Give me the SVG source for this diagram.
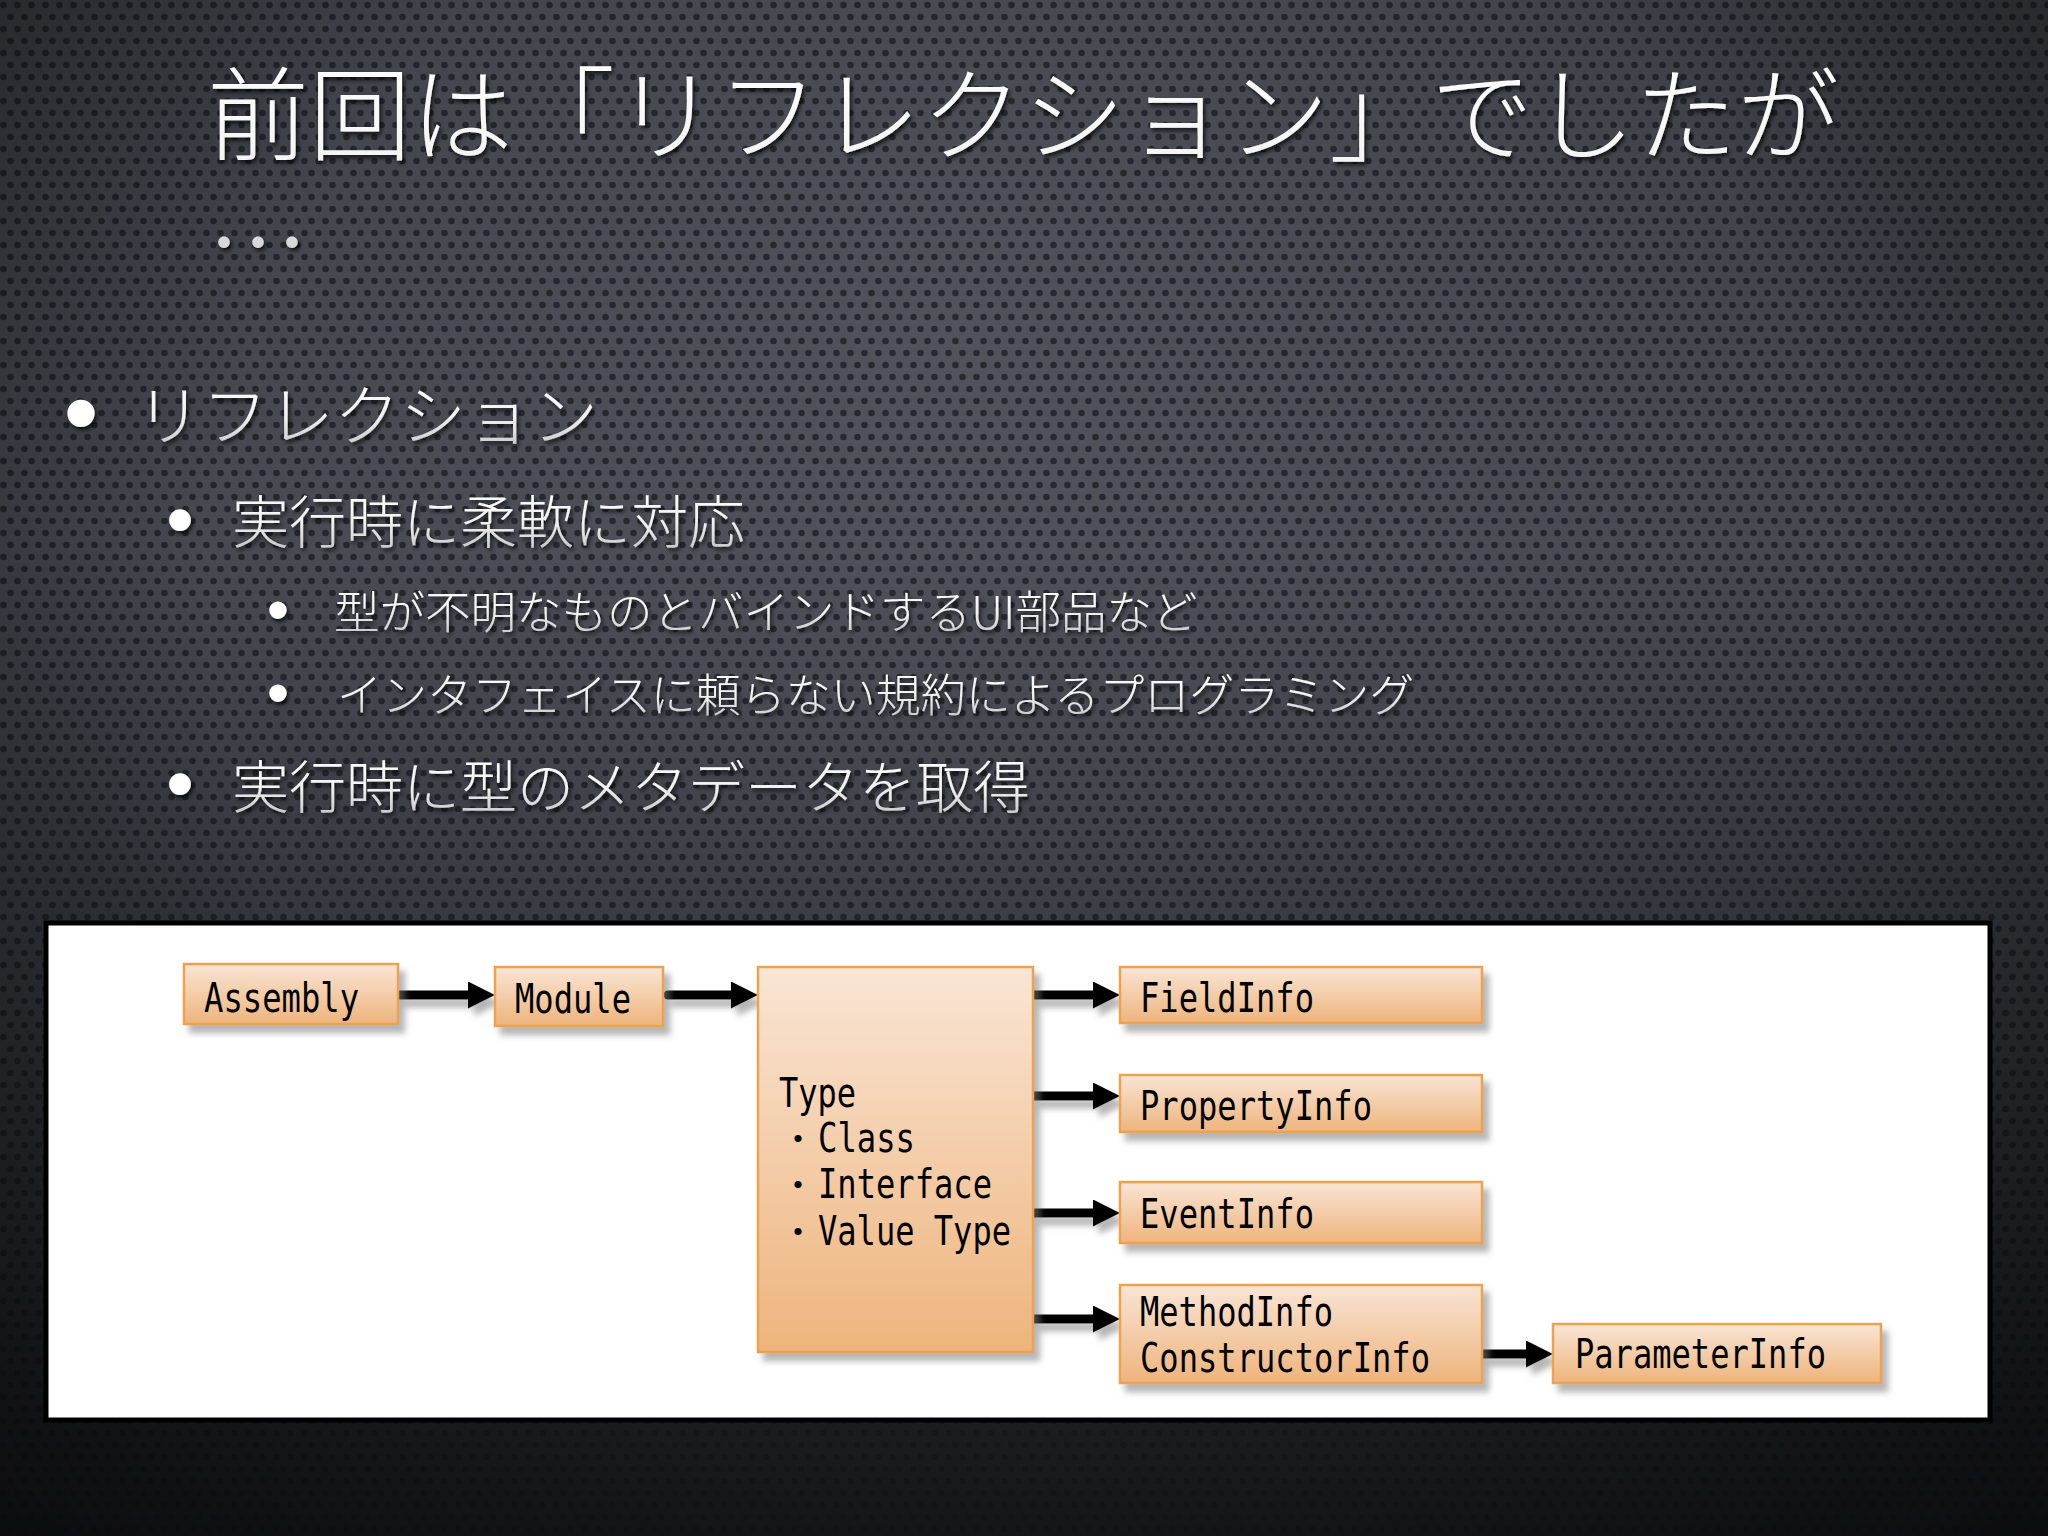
<svg xmlns="http://www.w3.org/2000/svg" width="2048" height="1536" viewBox="0 0 2048 1536">
<defs>
<style>
.jp{font-family:"Noto Sans CJK JP","Noto Sans",sans-serif;font-weight:300;fill:url(#txtg);filter:url(#tsh)}
.bul{font-family:"Liberation Sans",sans-serif;fill:#ffffff;text-anchor:middle;dominant-baseline:central;filter:url(#tsh)}
.box{fill:url(#boxg);stroke:#eda24f;stroke-width:2.5}
.lbl{font-family:"DejaVu Sans Mono","Liberation Mono",monospace;font-size:40px;fill:#000}
.dot{font-family:"Noto Sans CJK JP",sans-serif;font-size:34px;fill:#000}
.arr{stroke:#000;stroke-width:9;fill:none;marker-end:url(#ah)}
</style>
<linearGradient id="bgv" x1="0" y1="0" x2="0" y2="1">
<stop offset="0" stop-color="#3b3c43"/>
<stop offset="0.35" stop-color="#45464e"/>
<stop offset="0.7" stop-color="#2c2d33"/>
<stop offset="1" stop-color="#17181c"/>
</linearGradient>
<radialGradient id="bgr" cx="950" cy="330" r="1000" gradientUnits="userSpaceOnUse">
<stop offset="0" stop-color="#5e606a" stop-opacity="0.55"/>
<stop offset="1" stop-color="#5e606a" stop-opacity="0"/>
</radialGradient>
<radialGradient id="vig" cx="1024" cy="600" r="1350" gradientUnits="userSpaceOnUse">
<stop offset="0.6" stop-color="#000" stop-opacity="0"/>
<stop offset="1" stop-color="#000" stop-opacity="0.45"/>
</radialGradient>
<pattern id="holes" width="14" height="24" patternUnits="userSpaceOnUse">
<circle cx="3.5" cy="5" r="3.3" fill="#131418" fill-opacity="0.65"/>
<circle cx="10.5" cy="17" r="3.3" fill="#131418" fill-opacity="0.65"/>
</pattern>
<linearGradient id="txtg" x1="0" y1="0" x2="0" y2="1">
<stop offset="0" stop-color="#ffffff"/>
<stop offset="0.55" stop-color="#f2f2f2"/>
<stop offset="1" stop-color="#b9b9bd"/>
</linearGradient>
<linearGradient id="boxg" x1="0" y1="0" x2="0" y2="1">
<stop offset="0" stop-color="#f9e5d5"/>
<stop offset="1" stop-color="#eeb47c"/>
</linearGradient>
<filter id="tsh" x="-5%" y="-20%" width="110%" height="150%">
<feDropShadow dx="2" dy="3" stdDeviation="2" flood-color="#000" flood-opacity="0.75"/>
</filter>
<filter id="bsh" x="-10%" y="-20%" width="130%" height="150%">
<feDropShadow dx="6" dy="8" stdDeviation="3" flood-color="#7a7a7a" flood-opacity="0.55"/>
</filter>
<marker id="ah" markerUnits="userSpaceOnUse" markerWidth="27" markerHeight="27" viewBox="0 0 27 27" refX="0" refY="13.5" orient="auto">
<path d="M0,0 L27,13.5 L0,27 Z" fill="#000"/>
</marker>
</defs>

<g id="background">
<rect width="2048" height="1536" fill="url(#bgv)"/>
<rect width="2048" height="1536" fill="url(#bgr)"/>
<rect width="2048" height="1536" fill="url(#holes)"/>
<rect width="2048" height="1536" fill="url(#vig)"/>
</g>

<g id="title">
<text class="jp" x="207" y="153" font-size="102">前回は「リフレクション」でしたが<tspan x="207" dy="128">…</tspan></text>
</g>

<g id="bullets">
<text class="bul" x="81" y="412" font-size="100">•</text>
<text class="jp" x="136" y="440" font-size="66">リフレクション</text>
<text class="bul" x="180" y="519" font-size="80">•</text>
<text class="jp" x="232" y="543" font-size="57">実行時に柔軟に対応</text>
<text class="bul" x="278" y="610" font-size="64">•</text>
<text class="jp" x="334" y="629" font-size="45.5">型が不明なものとバインドするUI部品など</text>
<text class="bul" x="278" y="693" font-size="64">•</text>
<text class="jp" x="337" y="712" font-size="45">インタフェイスに頼らない規約によるプログラミング</text>
<text class="bul" x="180" y="783" font-size="80">•</text>
<text class="jp" x="232" y="808" font-size="57">実行時に型のメタデータを取得</text>
</g>

<g id="panel">
<rect x="46" y="923" width="1944" height="497" fill="#ffffff" stroke="#000" stroke-width="5"/>
</g>

<g id="connectors" filter="url(#bsh)">
<path class="arr" d="M398,995 H468"/>
<path class="arr" d="M668,995 H731" stroke-linecap="round"/>
<path class="arr" d="M1033,995 H1093"/>
<path class="arr" d="M1033,1096 H1093"/>
<path class="arr" d="M1033,1213 H1093"/>
<path class="arr" d="M1033,1319 H1093"/>
<path class="arr" d="M1482,1354 H1526"/>
</g>

<g id="node-assembly">
<rect class="box" x="184" y="964" width="214" height="60" filter="url(#bsh)"/>
<text class="lbl" x="204" y="1012" textLength="155" lengthAdjust="spacingAndGlyphs">Assembly</text>
</g>
<g id="node-module">
<rect class="box" x="495" y="967" width="168" height="59" filter="url(#bsh)"/>
<text class="lbl" x="515" y="1013" textLength="116" lengthAdjust="spacingAndGlyphs">Module</text>
</g>
<g id="node-type">
<rect class="box" x="758" y="967" width="275" height="385" filter="url(#bsh)"/>
<text class="lbl" x="779" y="1107" textLength="77" lengthAdjust="spacingAndGlyphs">Type</text>
<text class="dot" x="781" y="1152">・</text>
<text class="lbl" x="818" y="1152" textLength="97" lengthAdjust="spacingAndGlyphs">Class</text>
<text class="dot" x="781" y="1198">・</text>
<text class="lbl" x="818" y="1198" textLength="174" lengthAdjust="spacingAndGlyphs">Interface</text>
<text class="dot" x="781" y="1245">・</text>
<text class="lbl" x="818" y="1245" textLength="193" lengthAdjust="spacingAndGlyphs">Value Type</text>
</g>
<g id="node-fieldinfo">
<rect class="box" x="1120" y="967" width="362" height="56" filter="url(#bsh)"/>
<text class="lbl" x="1140" y="1012" textLength="174" lengthAdjust="spacingAndGlyphs">FieldInfo</text>
</g>
<g id="node-propertyinfo">
<rect class="box" x="1120" y="1075" width="362" height="57" filter="url(#bsh)"/>
<text class="lbl" x="1140" y="1120" textLength="232" lengthAdjust="spacingAndGlyphs">PropertyInfo</text>
</g>
<g id="node-eventinfo">
<rect class="box" x="1120" y="1182" width="362" height="61" filter="url(#bsh)"/>
<text class="lbl" x="1140" y="1228" textLength="174" lengthAdjust="spacingAndGlyphs">EventInfo</text>
</g>
<g id="node-methodinfo">
<rect class="box" x="1120" y="1285" width="362" height="98" filter="url(#bsh)"/>
<text class="lbl" x="1140" y="1326" textLength="193" lengthAdjust="spacingAndGlyphs">MethodInfo</text>
<text class="lbl" x="1140" y="1372" textLength="290" lengthAdjust="spacingAndGlyphs">ConstructorInfo</text>
</g>
<g id="node-parameterinfo">
<rect class="box" x="1553" y="1324" width="328" height="59" filter="url(#bsh)"/>
<text class="lbl" x="1575" y="1368" textLength="251" lengthAdjust="spacingAndGlyphs">ParameterInfo</text>
</g>
</svg>
